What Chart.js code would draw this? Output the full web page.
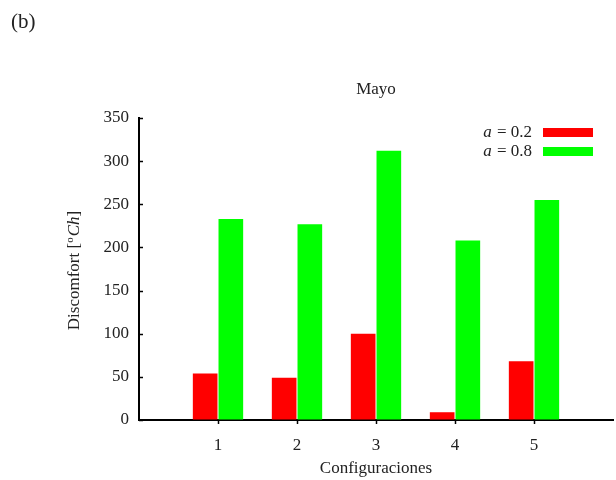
<!DOCTYPE html>
<html>
<head>
<meta charset="utf-8">
<script src="https://cdn.jsdelivr.net/npm/chart.js@4"></script>
<style>
html,body{margin:0;padding:0;background:#fff;}
#wrap{width:616px;height:480px;position:relative;}
</style>
</head>
<body>
<div id="wrap"><canvas id="c" width="616" height="480"></canvas></div>
<script>
const categories = [1, 2, 3, 4, 5];
const seriesLabels = ['a = 0.2', 'a = 0.8'];
const seriesA02 = [54, 49, 100, 9, 68];
const seriesA08 = [233, 227, 312, 208, 255];
const yMin = 0, yMax = 350, yStep = 50;
const xMin = 0, xMax = 6;
const chartTitle = 'Mayo';
const panelLabel = '(b)';
const xTitle = 'Configuraciones';

const SERIF = '"Liberation Serif", "Times New Roman", serif';
const FS = 17;

const decor = {
  id: 'decor',
  afterDraw(chart) {
    const ctx = chart.ctx;
    const ca = chart.chartArea;
    const ys = chart.scales.y;
    const xs = chart.scales.x;
    ctx.save();
    ctx.strokeStyle = '#000';
    ctx.lineWidth = 1.5;
    // inward y tick marks
    ys.ticks.forEach((t, i) => {
      const py = Math.round(ys.getPixelForTick(i)) + 0.5;
      ctx.beginPath();
      ctx.moveTo(ca.left, py);
      ctx.lineTo(ca.left + 4, py);
      ctx.stroke();
    });
    // small x tick marks below the axis
    xs.ticks.forEach((t, i) => {
      const px = Math.round(xs.getPixelForTick(i)) + 0.5;
      ctx.beginPath();
      ctx.moveTo(px, ca.bottom);
      ctx.lineTo(px, ca.bottom + 4);
      ctx.stroke();
    });
    ctx.fillStyle = '#222';
    // panel label
    ctx.font = '21px ' + SERIF;
    ctx.textAlign = 'left';
    ctx.textBaseline = 'middle';
    ctx.fillText(panelLabel, 11, 22);
    // title
    ctx.font = FS + 'px ' + SERIF;
    ctx.textAlign = 'center';
    ctx.fillText(chartTitle, (ca.left + ca.right) / 2, 90);
    // x title
    ctx.fillText(xTitle, (ca.left + ca.right) / 2, 469);
    // y title with superscript o and italic Ch
    ctx.save();
    ctx.translate(75, (ca.top + ca.bottom) / 2 + 2);
    ctx.rotate(-Math.PI / 2);
    const parts = [
      {t: 'Discomfort [', f: FS + 'px ' + SERIF, dy: 0},
      {t: 'o', f: '11px ' + SERIF, dy: -5},
      {t: 'Ch', f: 'italic ' + FS + 'px ' + SERIF, dy: 0},
      {t: ']', f: FS + 'px ' + SERIF, dy: 0}
    ];
    let total = 0;
    parts.forEach(p => { ctx.font = p.f; p.w = ctx.measureText(p.t).width; total += p.w; });
    let x = -total / 2;
    ctx.textAlign = 'left';
    parts.forEach(p => { ctx.font = p.f; ctx.fillText(p.t, x, p.dy); x += p.w + (p.t === 'o' ? 1 : 0); });
    ctx.restore();
    // legend (text left, swatch right)
    chart.data.datasets.forEach((ds, i) => {
      const cy = 132.5 + i * 19;
      ctx.fillStyle = ds.backgroundColor;
      ctx.fillRect(543, cy - 4.5, 50, 9);
      ctx.fillStyle = '#222';
      ctx.textAlign = 'right';
      ctx.textBaseline = 'middle';
      const lbl = ds.label;
      const rest = lbl.slice(1);
      ctx.font = FS + 'px ' + SERIF;
      ctx.fillText(rest, 532, cy);
      const rw = ctx.measureText(rest).width;
      ctx.font = 'italic ' + FS + 'px ' + SERIF;
      ctx.fillText(lbl[0], 532 - rw - 1, cy);
    });
    ctx.restore();
  }
};

new Chart(document.getElementById('c'), {
  type: 'bar',
  data: {
    datasets: [
      {
        label: seriesLabels[0],
        data: categories.map((c, i) => ({x: c, y: seriesA02[i]})),
        backgroundColor: '#ff0000',
        borderWidth: 0
      },
      {
        label: seriesLabels[1],
        data: categories.map((c, i) => ({x: c, y: seriesA08[i]})),
        backgroundColor: '#00ff00',
        borderWidth: 0
      }
    ]
  },
  options: {
    responsive: false,
    animation: false,
    devicePixelRatio: 1,
    categoryPercentage: 0.65,
    barPercentage: 0.96,
    layout: {padding: {left: 0, right: 3, top: 118, bottom: 0}},
    plugins: {
      legend: {display: false},
      title: {display: false},
      tooltip: {enabled: false}
    },
    scales: {
      x: {
        type: 'linear',
        min: xMin,
        max: xMax,
        offset: false,
        afterBuildTicks: (s) => { s.ticks = s.ticks.filter(t => categories.includes(t.value)); },
        afterFit: (s) => { s.height = 60; },
        ticks: {
          stepSize: 1,
          color: '#222',
          padding: 15,
          font: {family: SERIF, size: FS}
        },
        grid: {display: false, offset: false, drawOnChartArea: false, drawTicks: false},
        border: {display: true, color: '#000', width: 2}
      },
      y: {
        min: yMin,
        max: yMax,
        afterFit: (s) => { s.width = 139; },
        ticks: {
          stepSize: yStep,
          color: '#222',
          padding: 10,
          font: {family: SERIF, size: FS}
        },
        grid: {display: true, offset: false, drawOnChartArea: false, drawTicks: false},
        border: {display: true, color: '#000', width: 2}
      }
    }
  },
  plugins: [decor]
});
</script>
</body>
</html>
